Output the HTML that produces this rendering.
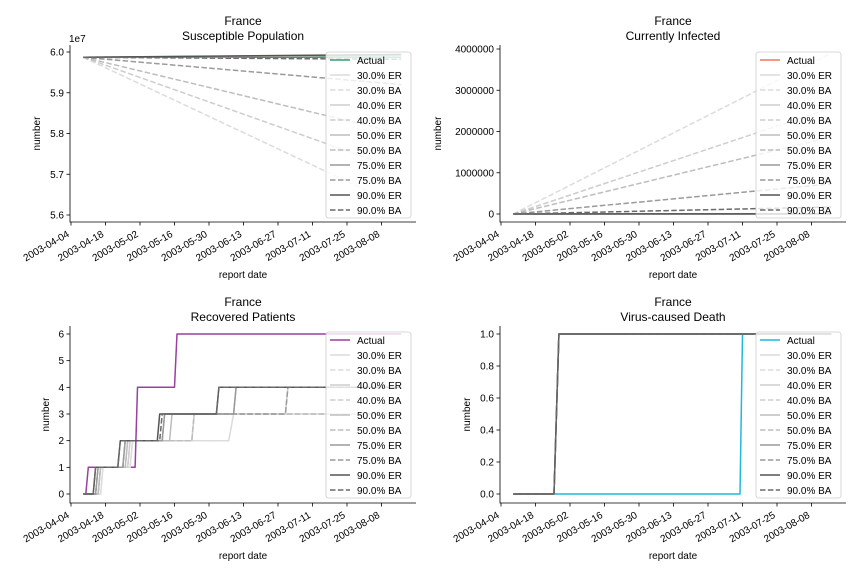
<!DOCTYPE html>
<html><head><meta charset="utf-8">
<style>
body{margin:0;background:#fff;}
svg{display:block;font-family:"Liberation Sans","DejaVu Sans",sans-serif;}
</style></head>
<body>
<svg id="fig" width="864" height="576" viewBox="0 0 864 576"></svg>
<script>
// ---- shared data ----
const tickDays = [0,14,28,42,56,70,84,98,112,126];
const tickLabels = ["2003-04-04","2003-04-18","2003-05-02","2003-05-16","2003-05-30","2003-06-13","2003-06-27","2003-07-11","2003-07-25","2003-08-08"];
const seriesNames = ["Actual","30.0% ER","30.0% BA","40.0% ER","40.0% BA","50.0% ER","50.0% BA","75.0% ER","75.0% BA","90.0% ER","90.0% BA"];

// Susceptible population (days, values in units of 1e7)
const suscDays = [5,134];
const suscVals = [[5.987,5.987],[5.987,5.992],[5.987,5.62],[5.987,5.992],[5.987,5.71],[5.987,5.992],[5.987,5.80],[5.987,5.993],[5.987,5.92],[5.987,5.994],[5.987,5.982]];
// Currently infected
const infDays = [5,134];
const infVals = [[0,0],[0,5000],[0,3900000],[0,5000],[0,2570000],[0,5000],[0,1870000],[0,5000],[0,730000],[0,5000],[0,170000]];
// Recovered (change-point days / values)
const recDays = [
 [5,6,7,26,27,42,43,134],
 [5,12,13,24,25,64,66,134],
 [5,12,13,24,25,64,66,134],
 [5,11,12,23,24,49,50,87,88,134],
 [5,11,12,23,24,49,50,134],
 [5,11,12,22,23,40,41,66,67,134],
 [5,11,12,22,23,49,50,134],
 [5,10,11,21,22,37,38,66,67,134],
 [5,10,11,21,22,37,38,87,88,134],
 [5,9,10,19,20,35,36,59,60,134],
 [5,9,10,19,20,36,37,59,60,134]];
const recVals = [
 [0,0,1,1,4,4,6,6],
 [0,0,1,1,2,2,3,3],
 [0,0,1,1,2,2,3,3],
 [0,0,1,1,2,2,3,3,4,4],
 [0,0,1,1,2,2,3,3],
 [0,0,1,1,2,2,3,3,4,4],
 [0,0,1,1,2,2,3,3],
 [0,0,1,1,2,2,3,3,4,4],
 [0,0,1,1,2,2,3,3,4,4],
 [0,0,1,1,2,2,3,3,4,4],
 [0,0,1,1,2,2,3,3,4,4]];
// Deaths
const deathDays = [[5,97,98,134],[5,21.5,23.5,134],[5,21.5,23.5,134],[5,21.5,23.5,134],[5,21.5,23.5,134],[5,21.5,23.5,134],[5,21.5,23.5,134],[5,21.5,23.5,134],[5,21.5,23.5,134],[5,21.5,23.5,134],[5,21.5,23.5,134]];
const deathVals = [[0,0,1,1],[0,0,1,1],[0,0,1,1],[0,0,1,1],[0,0,1,1],[0,0,1,1],[0,0,1,1],[0,0,1,1],[0,0,1,1],[0,0,1,1],[0,0,1,1]];

const susTicks = [5.6,5.7,5.8,5.9,6.0], susTickLabels=["5.6","5.7","5.8","5.9","6.0"];
const infTicks = [0,1000000,2000000,3000000,4000000], infTickLabels=["0","1000000","2000000","3000000","4000000"];
const recTicks = [0,1,2,3,4,5,6], recTickLabels=["0","1","2","3","4","5","6"];
const deaTicks = [0,0.2,0.4,0.6,0.8,1.0], deaTickLabels=["0.0","0.2","0.4","0.6","0.8","1.0"];

const grayCol = ["#dcdcdc","#dcdcdc","#cdcdcd","#cdcdcd","#bdbdbd","#bdbdbd","#9a9a9a","#9a9a9a","#555","#6a6a6a"];
const NS="http://www.w3.org/2000/svg";
const svg=document.getElementById('fig');
function el(tag,attrs,parent){const e=document.createElementNS(NS,tag);for(const k in attrs)e.setAttribute(k,attrs[k]);(parent||svg).appendChild(e);return e;}
function txt(s,attrs,parent){const t=el('text',attrs,parent);t.textContent=s;return t;}

function panel(o){
  const g=el('g',{});
  
  
  const L=o.L, R=o.L+346, T=o.T, B=o.T+177;
  const x=d=>L+1+d*34.5/14;
  const y=v=>o.y0px+(v-o.y0)*(o.y1px-o.y0px)/(o.y1-o.y0);
  const cx=(L+R)/2;
  const t1=txt('France',{x:cx,y:T-20,'text-anchor':'middle','font-size':12},g);
  
  const t2=txt(o.title,{x:cx,y:T-5,'text-anchor':'middle','font-size':12},g);
  
  // spines
  const sp=el('path',{d:`M${L},${T} V${B} H${R}`,stroke:'#000','stroke-width':0.8,fill:'none'},g);
  
  // x ticks
  tickDays.forEach((d,i)=>{
    el('line',{x1:x(d),x2:x(d),y1:B,y2:B+3.5,stroke:'#000','stroke-width':0.8},g);
    const tx=x(d)-1, ty=B+14;
    const t=txt(tickLabels[i],{x:tx,y:ty,'text-anchor':'end','font-size':10,transform:`rotate(-30 ${tx} ${ty})`},g);
    
  });
  const xl=txt('report date',{x:cx,y:B+56,'text-anchor':'middle','font-size':10},g);
  
  o.ticks.forEach((v,i)=>{
    el('line',{x1:L-3.5,x2:L,y1:y(v),y2:y(v),stroke:'#000','stroke-width':0.8},g);
    const t=txt(o.tickLabels[i],{x:L-6,y:y(v)+3.5,'text-anchor':'end','font-size':10},g);
    
  });
  if(o.offset){const t=txt(o.offset,{x:L-1,y:T-3,'font-size':10},g);}
  const yl=txt('number',{x:o.ylx,y:(T+B)/2,'text-anchor':'middle','font-size':10,transform:`rotate(-90 ${o.ylx} ${(T+B)/2})`},g);
  
  // series
  for(let s=0;s<11;s++){
    const ds=Array.isArray(o.days[0])?o.days[s]:o.days;
    const vs=o.vals[s];
    const pts=ds.map((d,i)=>`${x(d).toFixed(1)},${y(vs[i]).toFixed(1)}`).join(' ');
    const col=s===0?o.actual:grayCol[s-1];
    const a={points:pts,fill:'none',stroke:col,'stroke-width':1.5,'stroke-linejoin':'round'};
    if(s>0 && s%2===0) a['stroke-dasharray']='5.5,2.4';
    const p=el('polyline',a,g);
    
    
  }
  // legend
  const lx=R-90, ly=o.T+7-(o.legShift||0);
  const lg=el('g',{},g);
  
  
  el('rect',{x:lx,y:ly,width:85,height:166,rx:2.5,fill:'#fff','fill-opacity':0.8,stroke:'#ccc','stroke-width':0.8},lg);
  seriesNames.forEach((n,s)=>{
    const yy=ly+8+s*15;
    const col=s===0?o.actual:grayCol[s-1];
    const a={x1:lx+4,x2:lx+24,y1:yy,y2:yy,stroke:col,'stroke-width':1.5};
    if(s>0&&s%2===0)a['stroke-dasharray']='5.5,2.4';
    el('line',a,lg);
    const t=txt(n,{x:lx+31,y:yy+3.8,'font-size':10},lg);
    
    
  });
}

panel({name:'susceptible-panel',title:'Susceptible Population',L:70,T:45,y0:5.6,y1:6.0,y0px:215,y1px:52,ticks:susTicks,tickLabels:susTickLabels,offset:'1e7',ylx:40,days:suscDays,vals:suscVals,actual:'#3a9e6e'});
panel({name:'infected-panel',title:'Currently Infected',L:500,T:45,y0:0,y1:4000000,y0px:214,y1px:49,ticks:infTicks,tickLabels:infTickLabels,ylx:441,days:infDays,vals:infVals,actual:'#f4735f'});
panel({name:'recovered-panel',title:'Recovered Patients',L:70,T:326,y0:0,y1:6,y0px:494,y1px:334,ticks:recTicks,tickLabels:recTickLabels,ylx:49,days:recDays,vals:recVals,actual:'#9b3fa0',legShift:1});
panel({name:'death-panel',title:'Virus-caused Death',L:500,T:326,y0:0,y1:1,y0px:494,y1px:334,ticks:deaTicks,tickLabels:deaTickLabels,ylx:470,days:deathDays,vals:deathVals,actual:'#1fb8dc',legShift:1});
</script>
</body></html>
